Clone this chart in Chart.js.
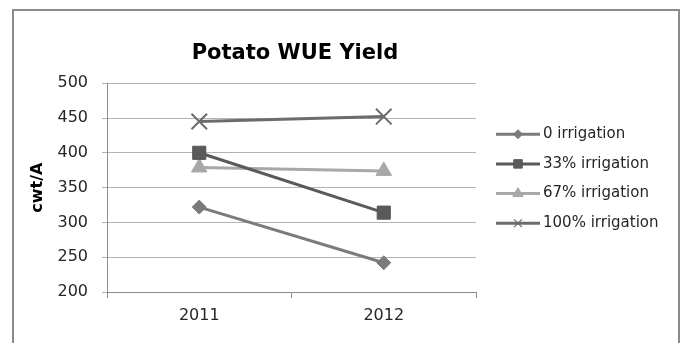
<!DOCTYPE html>
<html>
<head>
<meta charset="utf-8">
<script src="https://cdn.jsdelivr.net/npm/chart.js@4/dist/chart.umd.min.js"></script>
<style>
  html, body { margin: 0; padding: 0; background: #ffffff; overflow: hidden; }
  #frame {
    position: absolute; left: 12px; top: 9px; width: 664px; height: 400px;
    border: 2px solid #8c8c8c; border-bottom: none;
  }
  #c { position: absolute; left: 0; top: 0; }
</style>
</head>
<body>
<div id="frame"></div>
<canvas id="c" width="685" height="343"></canvas>
<script>
// Yield per irrigation level, cwt/A
const years = ['2011', '2012'];
const irrigation0 = [322, 242];
const irrigation33 = [400, 314];
const irrigation67 = [379, 374];
const irrigation100 = [445, 452];
const seriesNames = ['0 irrigation', '33% irrigation', '67% irrigation', '100% irrigation'];
const yTicks = [200, 250, 300, 350, 400, 450, 500];

const FONT = "'DejaVu Sans', sans-serif";

// Legend: a short line with the series marker in its middle, then the name
const sideLegend = {
  id: 'sideLegend',
  afterDraw(chart) {
    const ctx = chart.ctx;
    const area = chart.chartArea;
    const x0 = area.right + 20, x1 = area.right + 64;
    const sizes = [4.5, 6, 6, 5.5];
    chart.data.datasets.forEach((ds, i) => {
      const y = area.top + 51 + i * 29.7;
      ctx.save();
      ctx.strokeStyle = ds.borderColor;
      ctx.lineWidth = 3;
      ctx.beginPath();
      ctx.moveTo(x0, y);
      ctx.lineTo(x1, y);
      ctx.stroke();
      ctx.fillStyle = ds.pointBackgroundColor;
      ctx.strokeStyle = ds.pointBorderColor;
      ctx.lineWidth = ds.pointStyle === 'crossRot' ? 1.2 : 1;
      Chart.helpers.drawPoint(ctx, { pointStyle: ds.pointStyle, radius: sizes[i], rotation: 0, borderWidth: ctx.lineWidth }, (x0 + x1) / 2, y);
      ctx.fillStyle = '#262626';
      ctx.font = '15px ' + FONT;
      ctx.textBaseline = 'middle';
      ctx.textAlign = 'left';
      ctx.fillText(ds.label, x1 + 3, y);
      ctx.restore();
    });
  }
};

// Centre the title over the plot rather than the whole canvas
const titleOverPlot = {
  id: 'titleOverPlot',
  afterLayout(chart) {
    const t = chart.titleBlock;
    if (t) {
      t.left = chart.chartArea.left + 7;
      t.right = chart.chartArea.right;
    }
  }
};

function series(label, data, color, style, radius, borderW) {
  return {
    label, data,
    borderColor: color,
    backgroundColor: color,
    pointBackgroundColor: color,
    pointBorderColor: color,
    pointStyle: style,
    pointRadius: radius,
    pointHoverRadius: radius,
    pointBorderWidth: borderW,
    borderWidth: 3,
    tension: 0
  };
}

new Chart(document.getElementById('c'), {
  type: 'line',
  data: {
    labels: years,
    datasets: [
      series(seriesNames[0], irrigation0, '#7b7b7b', 'rectRot', 7, 1),
      series(seriesNames[1], irrigation33, '#5a5a5a', 'rect', 9.3, 1),
      series(seriesNames[2], irrigation67, '#a8a8a8', 'triangle', 9, 1),
      series(seriesNames[3], irrigation100, '#6c6c6c', 'crossRot', 11, 2)
    ]
  },
  options: {
    responsive: false,
    animation: false,
    events: [],
    layout: { padding: { left: 13, right: 209, top: 10, bottom: 0 } },
    plugins: {
      legend: { display: false },
      tooltip: { enabled: false },
      title: {
        display: true,
        text: 'Potato WUE Yield',
        color: '#000000',
        font: { family: FONT, size: 21, weight: 'bold' },
        padding: { top: 31, bottom: 17 }
      }
    },
    scales: {
      x: {
        offset: true,
        grid: { offset: true, drawOnChartArea: false, drawTicks: true, tickLength: 6, color: '#8c8c8c' },
        border: { display: true, color: '#8c8c8c' },
        ticks: { color: '#262626', font: { family: FONT, size: 16 }, padding: 8 },
        afterFit(scale) { scale.height = 51; }
      },
      y: {
        min: 200, max: 500,
        afterBuildTicks(scale) { scale.ticks = yTicks.map(v => ({ value: v })); },
        grid: { color: '#b4b4b4', tickLength: 5, drawTicks: true },
        border: { display: true, color: '#8c8c8c' },
        ticks: { color: '#262626', font: { family: FONT, size: 16 }, padding: 14 },
        title: {
          display: true, text: 'cwt/A', color: '#000000',
          font: { family: FONT, size: 16, weight: 'bold' },
          padding: { top: 15, bottom: 0 }
        },
        afterFit(scale) { scale.width = 94; }
      }
    }
  },
  plugins: [sideLegend, titleOverPlot]
});
</script>
</body>
</html>
